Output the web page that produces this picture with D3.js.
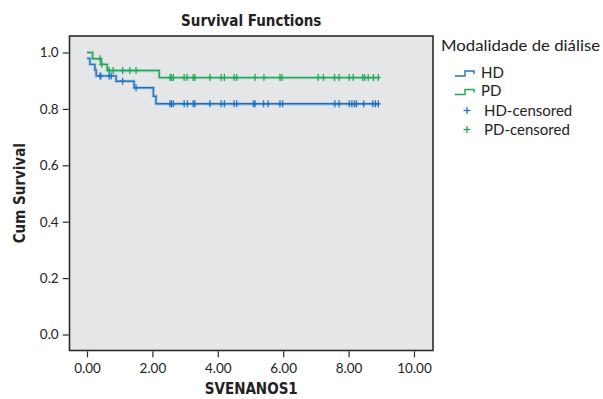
<!DOCTYPE html>
<html>
<head>
<meta charset="utf-8">
<script src="https://cdn.jsdelivr.net/npm/d3@7"></script>
<style>
  html, body { margin: 0; padding: 0; background: #ffffff; }
  svg { display: block; }
</style>
</head>
<body>
<svg id="chart" width="603" height="399"></svg>
<script>
// ---- Data ----
const groups = ["HD", "PD"];
const legendTitle = "Modalidade de diálise";
const legendLabels = ["HD", "PD", "HD-censored", "PD-censored"];

// Kaplan-Meier step points: time of each event and survival after it
const hdEventTimes = [0.00, 0.09, 0.24, 0.28, 0.89, 1.44, 2.03, 2.11];
const hdSurvival   = [0.979, 0.958, 0.938, 0.917, 0.898, 0.875, 0.845, 0.818];
const pdEventTimes = [0.00, 0.17, 0.43, 0.62, 2.21];
const pdSurvival   = [1.000, 0.978, 0.958, 0.936, 0.911];

// Censored observation times
const hdCensored = [0.40, 0.42, 0.68, 0.74, 1.09, 1.50, 2.54, 2.58, 2.64, 2.97, 3.07, 3.25, 3.30,
  3.76, 4.10, 4.20, 4.50, 4.58, 5.09, 5.14, 5.40, 5.54, 5.90, 5.98, 7.58, 7.71, 8.02, 8.10,
  8.18, 8.24, 8.46, 8.74, 8.82, 8.91];
const pdCensored = [0.40, 0.45, 0.68, 0.80, 1.09, 1.31, 1.50, 2.54, 2.58, 2.64, 2.97, 3.06, 3.25,
  3.30, 3.76, 4.10, 4.20, 4.50, 4.58, 5.14, 5.41, 5.90, 5.96, 7.07, 7.23, 7.57, 7.71, 8.02,
  8.14, 8.43, 8.49, 8.60, 8.76, 8.91];

const xTicks = [0, 2, 4, 6, 8, 10];
const yTicks = [0, 0.2, 0.4, 0.6, 0.8, 1.0];

const title = "Survival Functions";
const xTitle = "SVENANOS1";
const yTitle = "Cum Survival";

// ---- Styles ----
const colors = { HD: "#1f72c2", PD: "#1fa857" };
const numFont = "Lato, 'Open Sans', sans-serif";
const boldFont = "'Liberation Sans Narrow', 'DejaVu Sans Condensed', sans-serif";

// ---- Layout ----
const frame = { left: 69.5, right: 433, top: 36, bottom: 350.5 };

const x = d3.scaleLinear().domain([-0.535, 10.581]).range([frame.left, frame.right]);
const y = d3.scaleLinear().domain([-0.0567, 1.0585]).range([frame.bottom, frame.top]);

const svg = d3.select("#chart");

// plot background
svg.append("rect")
  .attr("x", frame.left).attr("y", frame.top)
  .attr("width", frame.right - frame.left).attr("height", frame.bottom - frame.top)
  .attr("fill", "#e5e6e8");

// series
const series = [
  { name: "HD", times: hdEventTimes, surv: hdSurvival, cens: hdCensored },
  { name: "PD", times: pdEventTimes, surv: pdSurvival, cens: pdCensored }
];

function survAt(s, t) {
  let v = s.surv[0];
  for (let i = 0; i < s.times.length; i++) if (s.times[i] <= t) v = s.surv[i];
  return v;
}

const line = d3.line().x(d => x(d[0])).y(d => y(d[1])).curve(d3.curveStepAfter);

const plot = svg.append("g");

series.forEach(s => {
  const end = d3.max(s.cens);
  const pts = s.times.map((t, i) => [t, s.surv[i]]);
  pts.push([end, s.surv[s.surv.length - 1]]);
  // soft halo
  plot.append("path").attr("d", line(pts)).attr("fill", "none")
    .attr("stroke", colors[s.name]).attr("stroke-opacity", 0.25).attr("stroke-width", 3.2);
  plot.append("path").attr("d", line(pts)).attr("fill", "none")
    .attr("stroke", colors[s.name]).attr("stroke-width", 1.4);

  const g = plot.append("g").attr("stroke", colors[s.name]).attr("stroke-width", 1.3);
  s.cens.forEach(t => {
    const cx = x(t), cy = y(survAt(s, t));
    g.append("line").attr("x1", cx).attr("x2", cx).attr("y1", cy - 3.5).attr("y2", cy + 3.5);
    g.append("line").attr("x1", cx - 2.5).attr("x2", cx + 2.5).attr("y1", cy).attr("y2", cy);
  });
});

// frame
svg.append("rect")
  .attr("x", frame.left).attr("y", frame.top)
  .attr("width", frame.right - frame.left).attr("height", frame.bottom - frame.top)
  .attr("fill", "none").attr("stroke", "#2b2b2b").attr("stroke-width", 1.6);

// axes
const xAxis = d3.axisBottom(x).tickValues(xTicks).tickFormat(d3.format(".2f"))
  .tickSize(6).tickPadding(6);
const gx = svg.append("g").attr("transform", `translate(0,${frame.bottom + 0.8})`).call(xAxis);
gx.select(".domain").remove();
gx.selectAll(".tick line").attr("stroke", "#2b2b2b").attr("stroke-width", 1.2);
gx.selectAll(".tick text").attr("font-family", numFont).attr("font-size", 13.5).attr("fill", "#222");

const yAxis = d3.axisLeft(y).tickValues(yTicks).tickFormat(d3.format(".1f"))
  .tickSize(6).tickPadding(4);
const gy = svg.append("g").attr("transform", `translate(${frame.left - 0.8},0)`).call(yAxis);
gy.select(".domain").remove();
gy.selectAll(".tick line").attr("stroke", "#2b2b2b").attr("stroke-width", 1.2);
gy.selectAll(".tick text").attr("font-family", numFont).attr("font-size", 13.5).attr("fill", "#222");

// titles
svg.append("text").attr("x", (frame.left + frame.right) / 2).attr("y", 26)
  .attr("text-anchor", "middle").attr("font-family", boldFont).attr("font-weight", "bold")
  .attr("font-size", 15).attr("fill", "#222").text(title);

svg.append("text").attr("x", (frame.left + frame.right) / 2).attr("y", 394)
  .attr("text-anchor", "middle").attr("font-family", boldFont).attr("font-weight", "bold")
  .attr("font-size", 15).attr("fill", "#222").text(xTitle);

svg.append("text")
  .attr("transform", `translate(25,${(frame.top + frame.bottom) / 2}) rotate(-90)`)
  .attr("text-anchor", "middle").attr("font-family", boldFont).attr("font-weight", "bold")
  .attr("font-size", 15).attr("fill", "#222").text(yTitle);

// legend
const lg = svg.append("g");
lg.append("text").attr("x", 441).attr("y", 51).attr("font-family", numFont)
  .attr("font-size", 16).attr("textLength", 159).attr("lengthAdjust", "spacingAndGlyphs")
  .attr("fill", "#222").text(legendTitle);

const rowY = [72, 90.5, 110, 129];
legendLabels.forEach((lab, i) => {
  const cy = rowY[i];
  const name = groups[i % 2];
  const c = colors[name];
  if (i < 2) {
    lg.append("path")
      .attr("d", `M455,${cy + 4}H465V${cy - 1}H474V${cy + 2}`)
      .attr("fill", "none").attr("stroke", c).attr("stroke-width", 1.4);
  } else {
    lg.append("line").attr("x1", 467).attr("x2", 467).attr("y1", cy - 3).attr("y2", cy + 4)
      .attr("stroke", c).attr("stroke-width", 1.3);
    lg.append("line").attr("x1", 463.5).attr("x2", 470.5).attr("y1", cy + 0.5).attr("y2", cy + 0.5)
      .attr("stroke", c).attr("stroke-width", 1.3);
  }
  lg.append("text").attr("x", i < 2 ? 481 : 484).attr("y", cy + 5.5)
    .attr("font-family", numFont).attr("font-size", 15).attr("fill", "#222").text(lab);
});
</script>
</body>
</html>
